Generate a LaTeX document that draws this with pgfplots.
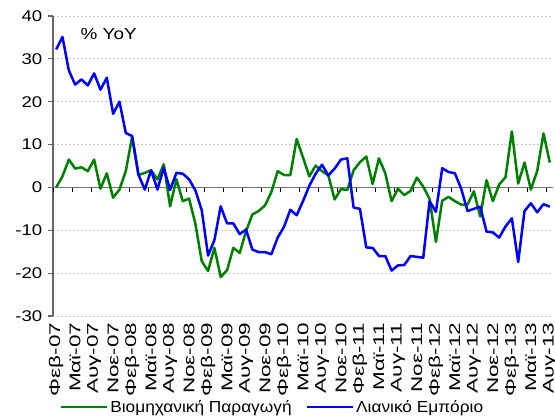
\documentclass[border=0pt]{standalone}
\usepackage{fontspec}
\setmainfont{Liberation Sans}
\newfontfamily\ytfont[FakeStretch=1.2]{Liberation Sans}
\newfontfamily\xtfont[FakeStretch=1.45]{Liberation Sans}
\newfontfamily\lgfont[FakeStretch=1.08]{Liberation Sans}
\newfontfamily\ttlfont[FakeStretch=1.18]{Liberation Sans}
\usepackage{pgfplots}
\pgfplotsset{compat=1.18}
\usepackage{pgfplotstable}
\definecolor{indgreen}{RGB}{0,128,0}
\definecolor{retblue}{RGB}{0,0,255}
\pgfplotstableread{
m ind ret
0 0.0 32.2
1 2.6 35.1
2 6.5 27.3
3 4.4 24.0
4 4.7 25.2
5 3.8 23.8
6 6.5 26.6
7 -0.3 22.8
8 3.3 25.6
9 -2.4 17.2
10 -0.5 20.0
11 3.8 12.7
12 11.8 12.0
13 2.9 3.0
14 3.4 -0.5
15 4.0 4.0
16 1.9 -0.5
17 5.4 4.6
18 -4.4 -0.6
19 1.9 3.4
20 -3.2 3.2
21 -2.6 1.9
22 -8.5 -0.7
23 -17.2 -5.3
24 -19.5 -15.9
25 -14.1 -12.3
26 -20.9 -4.4
27 -19.3 -8.4
28 -14.1 -8.4
29 -15.3 -10.9
30 -10.2 -9.8
31 -6.3 -14.5
32 -5.5 -15.1
33 -4.2 -15.1
34 -1.1 -15.6
35 3.8 -11.7
36 2.9 -9.2
37 2.9 -5.2
38 11.3 -6.5
39 7.0 -3.2
40 2.6 0.4
41 5.1 3.2
42 3.8 5.3
43 2.8 2.8
44 -2.8 4.4
45 -0.4 6.5
46 -0.6 6.8
47 4.0 -4.7
48 5.9 -5.0
49 7.2 -14.0
50 0.8 -14.1
51 6.8 -16.0
52 3.3 -16.0
53 -3.2 -19.4
54 -0.3 -18.2
55 -1.8 -18.1
56 -0.8 -16.0
57 2.3 -16.2
58 0.2 -16.4
59 -2.7 -3.2
60 -12.7 -5.7
61 -3.1 4.5
62 -2.2 3.6
63 -3.2 3.3
64 -4.0 -0.3
65 -4.0 -5.5
66 -0.9 -5.0
67 -6.8 -4.5
68 1.7 -10.3
69 -3.2 -10.5
70 0.7 -11.7
71 2.4 -9.1
72 13.1 -7.2
73 0.9 -17.4
74 5.8 -5.5
75 -0.5 -3.7
76 3.8 -5.8
77 12.6 -3.9
78 5.8 -4.5
}\data
\pgfplotsset{
  common/.style={
    at={(0,0)}, anchor=south west,
    scale only axis, width=500pt, height=300pt,
    xmin=-0.5, xmax=78.5, ymin=-30, ymax=40,
  }
}
\begin{document}
\begin{tikzpicture}
\path[use as bounding box] (-53pt,-102pt) rectangle (502pt,316pt);
\begin{axis}[
  common,
  axis lines*=left,
  axis line style={-},
  x axis line style={draw=none},
  y axis line style={draw=black!60, line width=1.2pt},
  xtick={0,3,...,78},
  xticklabels={Φεβ-07,Μαϊ-07,Αυγ-07,Νοε-07,Φεβ-08,Μαϊ-08,Αυγ-08,Νοε-08,Φεβ-09,Μαϊ-09,Αυγ-09,Νοε-09,Φεβ-10,Μαϊ-10,Αυγ-10,Νοε-10,Φεβ-11,Μαϊ-11,Αυγ-11,Νοε-11,Φεβ-12,Μαϊ-12,Αυγ-12,Νοε-12,Φεβ-13,Μαϊ-13,Αυγ-13},
  xticklabel style={rotate=90, anchor=east, inner sep=2pt, font=\xtfont\fontsize{15.5}{17}\selectfont},
  xtick style={draw=none},
  ytick={-30,-20,...,40},
  yticklabels={-30,-20,-10,0,10,20,30,40},
  yticklabel style={font=\ytfont\fontsize{15.5}{17}\selectfont, anchor=east, inner sep=0pt, xshift=-6pt},
  ytick style={draw=black!60, line width=1.2pt},
  tick align=outside,
  major tick length=4.5pt,
  ymajorgrids,
  grid style={black!22, line width=0.8pt, dash pattern=on 2pt off 2pt},
]
\node[anchor=center, font=\ttlfont\fontsize{16}{18}\selectfont] at (axis cs:8.3,35.9) {\% YoY};
\end{axis}
\begin{axis}[
  common,
  axis x line=middle,
  axis y line=none,
  axis line style={-, draw=black!55, line width=1.6pt},
  xtick={-0.5,2.5,...,77.5},
  xticklabels={},
  xtick align=outside,
  xtick style={draw=black, line width=0.8pt},
  major tick length=5pt,
  ytick=\empty,
  legend style={at={(0.439,-0.303)}, anchor=center, draw=none, fill=none,
    legend columns=2, font=\lgfont\fontsize{16}{18}\selectfont,
    /tikz/every even column/.append style={column sep=12pt}},
  legend image code/.code={\draw[#1] (0pt,0pt) -- (46pt,0pt);},
]
\addplot[indgreen, line width=2.5pt, line join=round] table[x=m, y=ind] {\data};
\addlegendentry{Βιομηχανική Παραγωγή}
\addplot[retblue, line width=2.5pt, line join=round] table[x=m, y=ret] {\data};
\addlegendentry{Λιανικό Εμπόριο}
\end{axis}
\end{tikzpicture}
\end{document}
